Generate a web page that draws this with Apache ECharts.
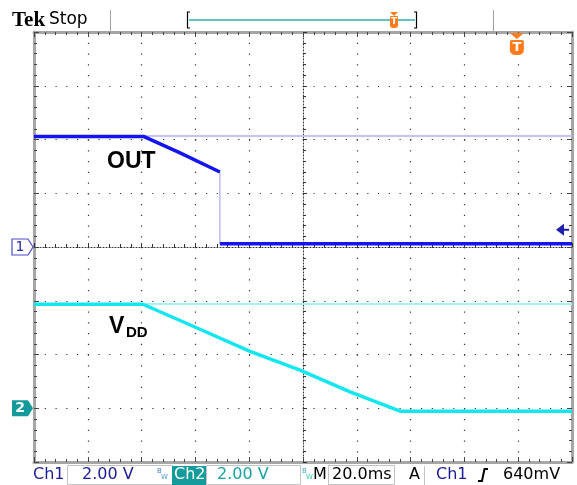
<!DOCTYPE html>
<html><head><meta charset="utf-8">
<script src="https://cdn.jsdelivr.net/npm/echarts@6/dist/echarts.min.js"></script>
<style>html,body{margin:0;padding:0;background:#fff}#c{width:577px;height:485px}</style>
</head><body><div id="c"></div>
<script>
// time axis in ms (20 ms/div, 10 div), volts at 2 V/div
const timeRange = [-100, 100];
const ch1Range = [-8, 8];     // ch1 ground at centre
const ch2Range = [-2, 14];    // ch2 ground 3 div below centre

// OUT (Ch1)
const outMainT = [-100, -59.1, -45.7, -30.9];
const outMainV = [4.11, 4.11, 3.50, 2.79];
const outDropT = [-30.9, -30.9];
const outDropV = [2.79, 0.12];
const outLowT = [-30.9, 100];
const outLowV = [0.12, 0.12];
const outGhostT = [-59.1, 100];
const outGhostV = [4.13, 4.13];

// VDD (Ch2)
const vddMainT = [-100, -59.5, -38.3, -19.7, -1.1, 17.5, 36.1, 100];
const vddMainV = [3.87, 3.87, 2.94, 2.12, 1.42, 0.61, -0.11, -0.11];
const vddGhostT = [-59.5, 100];
const vddGhostV = [3.88, 3.88];

const trigLevel = 0.64;   // V, ch1
const trigTime = 79.5;    // ms

const zip = (t, v) => t.map((x, i) => [x, v[i]]);

const chart = echarts.init(document.getElementById('c'), null, {renderer: 'canvas'});

function borderAxis(extra) {
  return Object.assign({
    type: 'value',
    axisLine: {onZero: false, lineStyle: {color: '#a6a6a6', width: 3}},
    axisTick: {show: true, inside: true, length: 5, lineStyle: {color: '#444', width: 1}},
    minorTick: {show: true, splitNumber: 5, length: 3, lineStyle: {color: '#444', width: 1}},
    axisLabel: {show: false},
    splitLine: {show: false}
  }, extra);
}
function centreAxis(extra) {
  return Object.assign({
    type: 'value',
    axisLine: {onZero: true, onZeroAxisIndex: 0, lineStyle: {color: '#333', width: 1, type: [1, 2]}},
    axisTick: {show: true, inside: true, length: 4, lineStyle: {color: '#333', width: 1}},
    minorTick: {show: true, splitNumber: 5, length: 3, lineStyle: {color: '#333', width: 1}},
    axisLabel: {show: false},
    splitLine: {show: false}
  }, extra);
}
const dotted = {show: true, lineStyle: {color: '#333', width: 1.2, type: [1.2, 9.55]}};

const line = (name, data, color, width, yIdx, z) => ({
  name, type: 'line', data, xAxisIndex: 0, yAxisIndex: yIdx,
  showSymbol: false, symbol: 'none', animation: false, z: z,
  lineStyle: {color, width, cap: 'butt', join: 'round'}
});

chart.setOption({
  animation: false,
  backgroundColor: '#fff',
  grid: {left: 34, right: 5, top: 32, bottom: 23},
  xAxis: [
    borderAxis({min: timeRange[0], max: timeRange[1], interval: 20, position: 'bottom', splitLine: dotted}),
    borderAxis({min: timeRange[0], max: timeRange[1], interval: 20, position: 'top'}),
    centreAxis({min: timeRange[0], max: timeRange[1], interval: 20, position: 'bottom'})
  ],
  yAxis: [
    borderAxis({min: ch1Range[0], max: ch1Range[1], interval: 2, position: 'left', splitLine: dotted}),
    {type: 'value', min: ch2Range[0], max: ch2Range[1], interval: 2, position: 'right', show: false},
    borderAxis({min: ch1Range[0], max: ch1Range[1], interval: 2, position: 'right'}),
    centreAxis({min: ch1Range[0], max: ch1Range[1], interval: 2, position: 'left'})
  ],
  series: [
    line('OUT ghost', zip(outGhostT, outGhostV), '#c4c4fa', 2, 0, 2),
    line('VDD ghost', zip(vddGhostT, vddGhostV), '#a6f2f2', 2, 1, 2),
    line('OUT drop', zip(outDropT, outDropV), '#9a9aff', 1, 0, 3),
    line('OUT', zip(outMainT, outMainV), '#1414f0', 3.5, 0, 4),
    line('OUT low', zip(outLowT, outLowV), '#1414f0', 3.5, 0, 4),
    line('VDD', zip(vddMainT, vddMainV), '#14e6f0', 3.5, 1, 4)
  ]
});

// overlay annotations positioned from the axes
const g1 = chart.convertToPixel({yAxisIndex: 0}, 0);
const g2 = chart.convertToPixel({yAxisIndex: 1}, 0);
const tl = chart.convertToPixel({yAxisIndex: 0}, trigLevel);
const tx = chart.convertToPixel({xAxisIndex: 0}, trigTime);
const fam = '"DejaVu Sans", sans-serif';
// y is the vertical centre of the text
const txt = (x, y, s, color, fontStr, align) => ({
  type: 'text', silent: true, z: 110,
  style: {x, y, text: s, fill: color, font: fontStr, verticalAlign: 'middle', align: align || 'left'}
});
const rect = (x, y, w, h, fill, stroke) => ({type: 'rect', z: 99, silent: true, shape: {x, y, width: w, height: h}, style: {fill: fill || 'none', stroke: stroke || 'none', lineWidth: 1}});
const orange = '#ff7a1a';
const blueTxt = '#1c1c9a';
const teal = '#139a9a';
const bar = '16px ' + fam;
const by = 475;

const graphics = [
  // top bar
  txt(12, 21, 'Tek', '#000', 'bold 21px "Liberation Serif", serif'),
  txt(49, 20, 'Stop', '#000', '17px ' + fam),
  {type: 'line', z: 99, shape: {x1: 110.5, y1: 10, x2: 110.5, y2: 31}, style: {stroke: '#a0a0a0', lineWidth: 1}},
  {type: 'line', z: 99, shape: {x1: 493.5, y1: 10, x2: 493.5, y2: 31}, style: {stroke: '#a0a0a0', lineWidth: 1}},
  {type: 'polyline', z: 99, shape: {points: [[190, 12], [187.5, 12], [187.5, 28], [190, 28]]}, style: {stroke: '#000', lineWidth: 1.2, fill: 'none'}},
  {type: 'polyline', z: 99, shape: {points: [[414, 12], [416.5, 12], [416.5, 28], [414, 28]]}, style: {stroke: '#000', lineWidth: 1.2, fill: 'none'}},
  {type: 'line', z: 99, shape: {x1: 189, y1: 20, x2: 415, y2: 20}, style: {stroke: '#5ec4c4', lineWidth: 2}},
  {type: 'polygon', z: 101, shape: {points: [[390, 12], [398, 12], [394, 16]]}, style: {fill: orange}},
  {type: 'rect', z: 101, shape: {x: 390, y: 16, width: 8, height: 12, r: [1, 1, 3, 3]}, style: {fill: orange}},
  txt(394, 22, 'T', '#fff', 'bold 9px ' + fam, 'center'),
  // trigger position marker inside graticule
  {type: 'polygon', z: 101, shape: {points: [[tx - 7, 33], [tx + 7, 33], [tx, 39]]}, style: {fill: orange}},
  {type: 'rect', z: 101, shape: {x: tx - 7, y: 40, width: 14, height: 15, r: [2, 2, 5, 5]}, style: {fill: orange}},
  txt(tx, 47.5, 'T', '#fff', 'bold 13px ' + fam, 'center'),
  // channel ground markers
  {type: 'polygon', z: 101, shape: {points: [[12, g1 - 8], [28, g1 - 8], [33, g1], [28, g1 + 8], [12, g1 + 8]]}, style: {fill: '#fff', stroke: '#4a4ad0', lineWidth: 1.2}},
  txt(20, g1, '1', '#2a2aa8', '14px ' + fam, 'center'),
  {type: 'polygon', z: 101, shape: {points: [[12, g2 - 8], [28, g2 - 8], [33, g2], [28, g2 + 8], [12, g2 + 8]]}, style: {fill: teal}},
  txt(20, g2, '2', '#fff', 'bold 14px ' + fam, 'center'),
  // trigger level marker
  {type: 'polygon', z: 101, shape: {points: [[564, tl - 6], [564, tl + 6], [556, tl]]}, style: {fill: '#2020b0'}},
  {type: 'line', z: 101, shape: {x1: 563, y1: tl, x2: 569, y2: tl}, style: {stroke: '#2020b0', lineWidth: 2}},
  // trace labels
  txt(107, 162, 'OUT', '#000', 'bold 23px "Liberation Sans", Arial, sans-serif'),
  txt(109, 327, 'V', '#000', 'bold 23px "Liberation Sans", Arial, sans-serif'),
  txt(126, 333, 'DD', '#000', 'bold 15px "Liberation Sans", Arial, sans-serif'),
  // bottom bar
  txt(33, by, 'Ch1', blueTxt, bar),
  rect(67.5, 465.5, 105, 19, null, '#c4c4c4'),
  txt(82, by, '2.00 V', blueTxt, bar),
  txt(157, 471, 'B', '#4a7ac8', '7px ' + fam),
  txt(161, 477, 'W', '#4a9ac8', '7px ' + fam),
  rect(172, 466, 34, 19, teal, null),
  txt(174, by, 'Ch2', '#fff', bar),
  rect(206.5, 465.5, 94, 19, null, '#c4c4c4'),
  txt(217, by, '2.00 V', '#17a3a3', bar),
  txt(302, 471, 'B', '#3aa8c8', '7px ' + fam),
  txt(306, 477, 'W', '#3ac8a8', '7px ' + fam),
  txt(313, by, 'M', '#000', bar),
  rect(328.5, 465.5, 66, 19, null, '#c4c4c4'),
  txt(332, by, '20.0ms', '#000', bar),
  txt(409, by, 'A', '#000', bar),
  {type: 'line', z: 99, shape: {x1: 424.5, y1: 466, x2: 424.5, y2: 485}, style: {stroke: '#c4c4c4', lineWidth: 1}},
  txt(436, by, 'Ch1', blueTxt, bar),
  {type: 'polyline', z: 101, shape: {points: [[478, 481], [482, 481], [484.5, 469], [488, 469]]}, style: {stroke: '#000', lineWidth: 2, fill: 'none'}},
  txt(503, by, '640mV', '#000', bar)
];
chart.setOption({graphic: graphics});
</script>
</body></html>
